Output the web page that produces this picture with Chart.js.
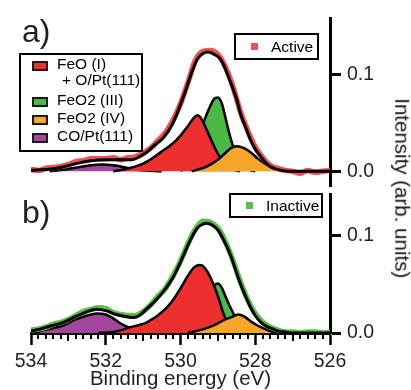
<!DOCTYPE html>
<html>
<head>
<meta charset="utf-8">
<script src="https://cdn.jsdelivr.net/npm/chart.js@4.4.1/dist/chart.umd.min.js"></script>
<style>
  html, body { margin: 0; padding: 0; background: #fff; }
  #wrap { position: relative; width: 411px; height: 390px; overflow: hidden;
          font-family: "Liberation Sans", Arial, sans-serif; color: #231f20; }
  #wrap canvas { position: absolute; left: 0; }
  #cA { top: 0; }
  #cB { top: 190px; }
  .abs { position: absolute; white-space: nowrap; line-height: 1; }
  .panel { font-size: 32px; }
  .lg { font-size: 15.5px; color: #000; }
  .box { position: absolute; border: 2.5px solid #000; box-sizing: border-box; }
  .sw { position: absolute; width: 16px; height: 10px; border: 2px solid #1a1a1a; box-sizing: border-box; }
  .mk { position: absolute; width: 7px; height: 7px; }
  #ytitle { position: absolute; left: 300px; top: 178px; width: 204px; text-align: center;
            font-size: 20.5px; line-height: 20.5px; transform: rotate(90deg); white-space: nowrap; color: #111; }
</style>
</head>
<body>
<div id="wrap">
  <canvas id="cA" width="411" height="190"></canvas>
  <canvas id="cB" width="411" height="200"></canvas>

  <div class="abs panel" style="left:22px;top:15px">a)</div>
  <div class="abs panel" style="left:22px;top:196px">b)</div>

  <!-- component legend -->
  <div class="box" style="left:19px;top:53px;width:124px;height:99px"></div>
  <div class="sw" style="left:32px;top:61px;background:#ee2f2f"></div>
  <div class="sw" style="left:32px;top:97px;background:#4cb848"></div>
  <div class="sw" style="left:32px;top:115px;background:#f8a629"></div>
  <div class="sw" style="left:32px;top:133px;background:#a2459c"></div>
  <div class="abs lg" style="left:57px;top:55.6px">FeO (I)</div>
  <div class="abs lg" style="left:62px;top:72.4px">+ O/Pt(111)</div>
  <div class="abs lg" style="left:57px;top:92.4px">FeO2 (III)</div>
  <div class="abs lg" style="left:57px;top:110.4px">FeO2 (IV)</div>
  <div class="abs lg" style="left:57px;top:127.9px">CO/Pt(111)</div>

  <!-- data legends -->
  <div class="box" style="left:234px;top:33px;width:85px;height:27px"></div>
  <div class="mk" style="left:251px;top:43px;background:#f0504f"></div>
  <div class="abs lg" style="left:271px;top:38.6px">Active</div>
  <div class="box" style="left:229px;top:193px;width:94px;height:25px"></div>
  <div class="mk" style="left:246px;top:202px;background:#5cbf45"></div>
  <div class="abs lg" style="left:266px;top:197.6px">Inactive</div>

  <div id="ytitle">Intensity (arb. units)</div>
</div>

<script>
// binding energy grid of the measured spectra (eV)
const dataE = [534.0, 533.8, 533.6, 533.4, 533.2, 533.0, 532.8, 532.6, 532.4, 532.2,
               532.0, 531.8, 531.6, 531.4, 531.2, 531.0, 530.8, 530.6, 530.4, 530.2,
               530.0, 529.8, 529.6, 529.4, 529.2, 529.0, 528.8, 528.6, 528.4, 528.2,
               528.0, 527.8, 527.6, 527.4, 527.2, 527.0, 526.8, 526.6, 526.4, 526.2, 526.0];

// a) Active
const aData = [0.002, 0.001, 0.003, 0.004, 0.005, 0.007, 0.010, 0.011, 0.013, 0.013,
               0.013, 0.014, 0.012, 0.014, 0.015, 0.019, 0.024, 0.032, 0.040, 0.053,
               0.070, 0.092, 0.115, 0.124, 0.125, 0.121, 0.108, 0.088, 0.062, 0.042,
               0.025, 0.014, 0.006, 0.003, 0.001, 0.000, -0.002, 0.001, -0.001, 0.000, 0.001];
const aEnvE = [534.0, 533.6, 533.2, 532.8, 532.4, 532.0, 531.6, 531.3, 531.1, 530.9,
               530.7, 530.45, 530.2, 530.0, 529.85, 529.73, 529.55, 529.4, 529.26, 529.1,
               528.93, 528.8, 528.66, 528.5, 528.39, 528.25, 528.12, 528.0, 527.85, 527.7,
               527.5, 527.3, 527.0, 526.0];
const aEnvI = [0.001, 0.002, 0.004, 0.008, 0.011, 0.012, 0.012, 0.012, 0.015, 0.020,
               0.027, 0.035, 0.050, 0.069, 0.085, 0.099, 0.116, 0.122, 0.1235, 0.121,
               0.116, 0.106, 0.092, 0.075, 0.059, 0.045, 0.032, 0.023, 0.015, 0.008,
               0.003, 0.001, 0.000, 0.000];
const aRedE = [531.8, 531.4, 531.0, 530.7, 530.45, 530.2, 530.0, 529.8, 529.65, 529.55,
               529.45, 529.3, 529.15, 529.0, 528.8, 528.6, 528.4];
const aRedI = [0.000, 0.003, 0.008, 0.015, 0.022, 0.029, 0.037, 0.047, 0.055, 0.058,
               0.055, 0.043, 0.030, 0.018, 0.008, 0.002, 0.000];
const aGreenE = [530.0, 529.8, 529.6, 529.36, 529.2, 529.1, 529.0, 528.9, 528.8, 528.7,
                 528.61, 528.4, 528.2, 528.0];
const aGreenI = [0.000, 0.010, 0.026, 0.053, 0.068, 0.075, 0.0765, 0.071, 0.056, 0.040,
                 0.028, 0.008, 0.002, 0.000];
const aOrangeE = [529.7, 529.3, 529.0, 528.8, 528.65, 528.5, 528.3, 528.1, 527.94, 527.7,
                  527.5, 527.2, 527.0];
const aOrangeI = [0.000, 0.005, 0.012, 0.019, 0.024, 0.026, 0.024, 0.019, 0.0134, 0.007,
                  0.003, 0.0005, 0.000];
const aPurpleE = [533.5, 533.1, 532.7, 532.4, 532.1, 531.8, 531.5, 531.2, 530.8, 530.5];
const aPurpleI = [0.000, 0.002, 0.0045, 0.0063, 0.007, 0.0062, 0.0043, 0.002, 0.0005, 0.000];

// b) Inactive
const bData = [0.003, 0.004, 0.006, 0.009, 0.011, 0.014, 0.018, 0.022, 0.024, 0.026,
               0.025, 0.021, 0.019, 0.018, 0.018, 0.022, 0.029, 0.038, 0.046, 0.059,
               0.074, 0.092, 0.107, 0.115, 0.114, 0.108, 0.094, 0.075, 0.053, 0.034,
               0.020, 0.011, 0.006, 0.003, 0.001, 0.001, 0.000, 0.001, 0.001, 0.000, 0.001];
const bEnvE = [534.0, 533.76, 533.5, 533.13, 532.8, 532.5, 532.25, 532.0, 531.8, 531.6,
               531.4, 531.25, 531.1, 530.9, 530.7, 530.45, 530.2, 530.0, 529.85, 529.73,
               529.55, 529.4, 529.3, 529.15, 529.0, 528.85, 528.66, 528.5, 528.39, 528.25,
               528.12, 528.0, 527.85, 527.7, 527.58, 527.4, 527.2, 527.0, 526.0];
const bEnvI = [0.002, 0.004, 0.007, 0.011, 0.017, 0.022, 0.0245, 0.023, 0.020, 0.018,
               0.0165, 0.016, 0.018, 0.025, 0.032, 0.043, 0.057, 0.073, 0.086, 0.096,
               0.108, 0.112, 0.113, 0.111, 0.106, 0.096, 0.080, 0.062, 0.050, 0.037,
               0.026, 0.018, 0.011, 0.007, 0.005, 0.002, 0.001, 0.000, 0.000];
const bRedE = [532.2, 531.8, 531.34, 530.9, 530.45, 530.2, 530.0, 529.8, 529.65, 529.5,
               529.4, 529.28, 529.15, 529.0, 528.85, 528.7, 528.5, 528.3];
const bRedI = [0.000, 0.001, 0.006, 0.011, 0.023, 0.034, 0.046, 0.059, 0.067, 0.070,
               0.069, 0.063, 0.053, 0.038, 0.020, 0.008, 0.002, 0.000];
const bGreenE = [529.9, 529.7, 529.5, 529.25, 529.1, 529.0, 528.9, 528.8, 528.66, 528.5,
                 528.3, 528.1, 527.9];
const bGreenI = [0.000, 0.006, 0.018, 0.040, 0.049, 0.051, 0.047, 0.038, 0.026, 0.014,
                 0.005, 0.001, 0.000];
const bOrangeE = [529.8, 529.3, 529.0, 528.8, 528.66, 528.45, 528.3, 528.12, 527.95, 527.85,
                  527.6, 527.3, 527.0];
const bOrangeI = [0.000, 0.005, 0.010, 0.014, 0.016, 0.019, 0.017, 0.012, 0.008, 0.006,
                  0.002, 0.0003, 0.000];
const bPurpleE = [533.9, 533.67, 533.4, 533.13, 532.8, 532.5, 532.24, 532.0, 531.8, 531.61,
                  531.4, 531.25, 531.0, 530.7];
const bPurpleI = [0.000, 0.003, 0.005, 0.008, 0.014, 0.018, 0.020, 0.019, 0.015, 0.010,
                  0.006, 0.004, 0.0015, 0.000];

// axes
const xMajorTicks = [534, 532, 530, 528, 526];
const yTickValues = [0, 0.1];
const yTickLabels = ['0.0', '0.1'];

const FONT = '"Liberation Sans", Arial, sans-serif';
const TEXT = '#231f20';
const COLORS = { red: '#ee2f2f', green: '#4cb848', orange: '#f8a629', purple: '#a2459c' };

function pts(es, is) {
  return es.map((e, i) => ({ x: e, y: is[i] }));
}

function component(es, is, color, order) {
  return {
    data: pts(es, is), order,
    borderColor: '#000', borderWidth: 2.5, backgroundColor: color,
    fill: 'origin', pointRadius: 0, cubicInterpolationMode: 'monotone'
  };
}

function panelDatasets(d, env, red, green, orange, purple, dataColor) {
  return [
    { data: pts(env[0], env[1]), order: 0, borderColor: '#000', borderWidth: 3,
      fill: false, pointRadius: 0, cubicInterpolationMode: 'monotone' },
    { data: pts(dataE, d), order: 1, borderColor: dataColor, borderWidth: 5.5,
      fill: false, pointStyle: 'rect', pointRadius: 2.6, pointBorderWidth: 0,
      pointBackgroundColor: dataColor, cubicInterpolationMode: 'monotone' },
    component(orange[0], orange[1], COLORS.orange, 2),
    component(red[0], red[1], COLORS.red, 3),
    component(green[0], green[1], COLORS.green, 4),
    component(purple[0], purple[1], COLORS.purple, 5)
  ];
}

function yAxis(min, max) {
  return {
    position: 'right', min, max,
    afterBuildTicks: s => { s.ticks = yTickValues.map(v => ({ value: v })); },
    afterFit: s => { s.width = 81; s.paddingTop = 0; s.paddingBottom = 0; },
    border: { display: true, width: 3, color: '#000' },
    grid: { drawOnChartArea: false, tickLength: 11, tickWidth: 3, tickColor: '#000' },
    ticks: {
      color: TEXT, padding: 6, font: { family: FONT, size: 19.5 },
      callback: (v) => yTickLabels[yTickValues.indexOf(v)]
    }
  };
}

function isMajor(v) {
  const r = Math.round(v);
  return Math.abs(v - r) < 1e-6 && xMajorTicks.includes(r);
}

// minor ticks on the energy axis
const minorTicks = {
  id: 'minorTicks',
  afterDraw(chart) {
    const sx = chart.scales.x;
    if (!sx || !sx.options.display) return;
    const ctx = chart.ctx;
    const y0 = chart.chartArea.bottom;
    ctx.save();
    ctx.strokeStyle = '#000';
    ctx.lineWidth = 2;
    sx.ticks.forEach(t => {
      if (isMajor(t.value)) return;
      const whole = Math.abs(t.value - Math.round(t.value)) < 1e-6;
      const px = Math.round(sx.getPixelForValue(t.value));
      ctx.beginPath();
      ctx.moveTo(px, y0);
      ctx.lineTo(px, y0 + (whole ? 8 : 6));
      ctx.stroke();
    });
    ctx.restore();
  }
};

const common = {
  responsive: false, animation: false, events: [],
  plugins: { legend: { display: false }, tooltip: { enabled: false } }
};

new Chart(document.getElementById('cA'), {
  type: 'line',
  data: { datasets: panelDatasets(aData, [aEnvE, aEnvI], [aRedE, aRedI], [aGreenE, aGreenI],
                                  [aOrangeE, aOrangeI], [aPurpleE, aPurpleI], '#f0504f') },
  options: {
    ...common,
    layout: { padding: { left: 31, top: 18, right: 0, bottom: 0 } },
    scales: {
      x: { type: 'linear', min: 526, max: 534, reverse: true, display: false },
      y: yAxis(-0.01515, 0.1586)
    }
  }
});

new Chart(document.getElementById('cB'), {
  type: 'line',
  data: { datasets: panelDatasets(bData, [bEnvE, bEnvI], [bRedE, bRedI], [bGreenE, bGreenI],
                                  [bOrangeE, bOrangeI], [bPurpleE, bPurpleI], '#5cbf45') },
  options: {
    ...common,
    layout: { padding: { left: 31, top: 0, right: 0, bottom: 0 } },
    scales: {
      x: {
        type: 'linear', min: 526, max: 534, reverse: true,
        afterFit: s => { s.height = 57; s.paddingLeft = 0; s.paddingRight = 0; },
        border: { display: true, width: 3, color: '#000' },
        grid: {
          drawOnChartArea: false, tickLength: 12, tickWidth: 2.5,
          tickColor: c => isMajor(c.tick.value) ? '#000' : 'rgba(0,0,0,0)'
        },
        ticks: {
          stepSize: 0.2, maxTicksLimit: 100, autoSkip: false, maxRotation: 0,
          color: TEXT, padding: 5, font: { family: FONT, size: 19.5 },
          callback: (v) => isMajor(v) ? String(Math.round(v)) : ''
        },
        title: {
          display: true, text: 'Binding energy (eV)', color: TEXT,
          font: { family: FONT, size: 20.5 }, padding: { top: 0, bottom: -2 }
        }
      },
      y: yAxis(0, 0.143)
    }
  },
  plugins: [minorTicks]
});
</script>
</body>
</html>
